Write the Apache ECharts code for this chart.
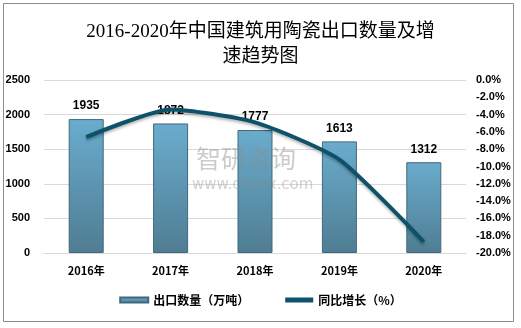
<!DOCTYPE html>
<html>
<head>
<meta charset="utf-8">
<script src="https://cdn.jsdelivr.net/npm/echarts@6/dist/echarts.min.js"></script>
<style>
html,body{margin:0;padding:0;background:#fff;}
#chart{width:521px;height:328px;}
</style>
</head>
<body>
<div id="chart"></div>
<script>
// Years, export volume (10k tonnes) and year-on-year growth (%)
var years = ['2016年', '2017年', '2018年', '2019年', '2020年'];
var exportVolume = [1935, 1872, 1777, 1613, 1312];
var growthRate = [-6.6, -3.4, -4.9, -9.2, -18.7];
var leftTicks = [0, 500, 1000, 1500, 2000, 2500];
var rightTicks = [0, -2, -4, -6, -8, -10, -12, -14, -16, -18, -20];

var chart = echarts.init(document.getElementById('chart'));
var cjk = '"Noto Sans CJK SC", "Noto Sans", sans-serif';

chart.setOption({
  backgroundColor: '#fff',
  animation: false,
  title: {
    text: '2016-2020年中国建筑用陶瓷出口数量及增\n速趋势图',
    left: 'center',
    top: 15,
    textStyle: {
      fontFamily: '"Liberation Serif", "Noto Sans CJK SC", serif',
      fontSize: 19,
      fontWeight: 'normal',
      color: '#000',
      lineHeight: 25
    }
  },
  graphic: [
    {
      type: 'rect',
      shape: { x: 3.5, y: 3.5, width: 510, height: 318 },
      style: { fill: 'none', stroke: '#8c8c8c', lineWidth: 1 },
      z: 0
    },
    {
      type: 'text',
      left: 196, top: 146,
      style: { text: '智研咨询', fontSize: 25, fontFamily: cjk, fill: 'rgba(140,140,140,0.45)' },
      z: 100
    },
    {
      type: 'text',
      left: 192, top: 178,
      style: { text: 'www.chyxx.com', fontSize: 15, fontFamily: '"DejaVu Sans", sans-serif', fill: 'rgba(140,140,140,0.4)' },
      z: 100
    }
  ],
  legend: {
    bottom: 17,
    left: 'center',
    itemGap: 36,
    itemWidth: 28,
    itemHeight: 5,
    textStyle: { fontFamily: cjk, fontSize: 12, fontWeight: 'bold', color: '#000' },
    data: [
      { name: '出口数量（万吨）', icon: 'rect' },
      { name: '同比增长（%）', icon: 'rect' }
    ]
  },
  grid: { left: 44, right: 55, top: 80, bottom: 75 },
  xAxis: {
    type: 'category',
    data: years,
    axisLine: { lineStyle: { color: '#d9d9d9' } },
    axisTick: { show: false },
    axisLabel: { fontFamily: cjk, fontSize: 11, fontWeight: 'bold', color: '#000', margin: 12 }
  },
  yAxis: [
    {
      type: 'value',
      min: leftTicks[0],
      max: leftTicks[leftTicks.length - 1],
      interval: 500,
      axisLine: { show: false },
      axisTick: { show: false },
      splitLine: { lineStyle: { color: '#d9d9d9' } },
      axisLabel: {
        fontFamily: '"Liberation Sans", sans-serif', fontSize: 11, fontWeight: 'bold', color: '#000', margin: 14,
        formatter: function (v) { return String(v); }
      }
    },
    {
      type: 'value',
      min: rightTicks[rightTicks.length - 1],
      max: rightTicks[0],
      interval: 2,
      axisLine: { show: false },
      axisTick: { show: false },
      splitLine: { show: false },
      axisLabel: {
        fontFamily: '"Liberation Sans", sans-serif', fontSize: 11, fontWeight: 'bold', color: '#000', margin: 10,
        formatter: function (v) { return v.toFixed(1) + '%'; }
      }
    }
  ],
  series: [
    {
      name: '出口数量（万吨）',
      type: 'bar',
      data: exportVolume,
      barWidth: 35,
      itemStyle: {
        color: new echarts.graphic.LinearGradient(0, 0, 0, 1, [
          { offset: 0, color: '#6aaccd' },
          { offset: 1, color: '#4f7d93' }
        ]),
        borderColor: '#41687c',
        borderWidth: 1
      },
      label: {
        show: true,
        position: 'top',
        distance: 7,
        fontFamily: '"Liberation Sans", sans-serif',
        fontSize: 12,
        fontWeight: 'bold',
        color: '#000'
      }
    },
    {
      name: '同比增长（%）',
      type: 'line',
      yAxisIndex: 1,
      data: growthRate,
      smooth: 0.2,
      symbol: 'none',
      lineStyle: { color: '#0e5269', width: 4, shadowColor: 'rgba(0,0,0,0.3)', shadowBlur: 3, shadowOffsetY: 2 },
      itemStyle: { color: '#0e5269' },
      z: 5
    }
  ]
});
</script>
</body>
</html>
